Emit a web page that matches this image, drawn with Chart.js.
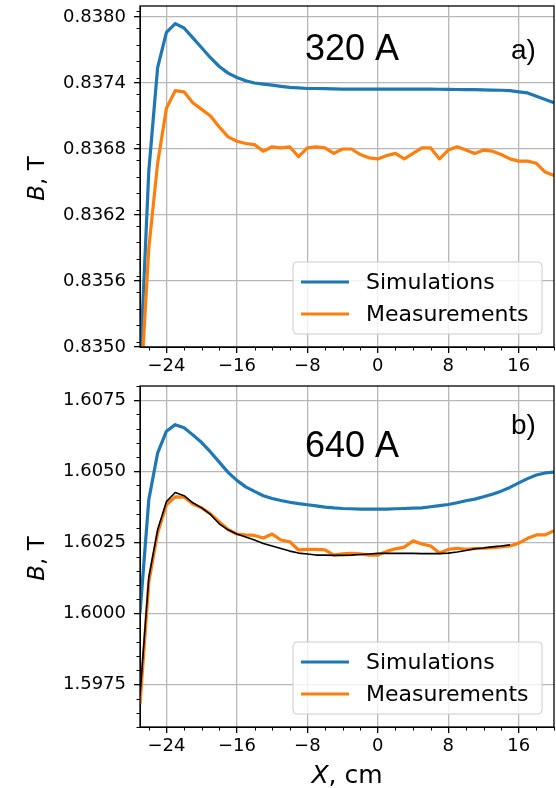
<!DOCTYPE html>
<html>
<head>
<meta charset="utf-8">
<script src="https://cdn.jsdelivr.net/npm/chart.js@4.4.1/dist/chart.umd.min.js"></script>
<style>
  html, body { margin: 0; padding: 0; background: #fff; }
  #wrap { position: relative; width: 556px; height: 788px; }
  canvas { position: absolute; left: 0; }
</style>
</head>
<body>
<div id="wrap">
  <canvas id="chartA" width="556" height="380" style="top:0px"></canvas>
  <canvas id="chartB" width="556" height="408" style="top:380px"></canvas>
</div>
<script>
// X position along the magnet, cm
const xCm = [-27,-26,-25,-24,-23,-22,-21,-20,-19,-18,-17,-16,-15,-14,-13,-12,-11,-10,-9,-8,-7,-6,-5,-4,
             -3,-2,-1,0,1,2,3,4,5,6,7,8,9,10,11,12,13,14,15,16,17,18,19,20];

// a) 320 A
const simA = [0.8348,0.8366,0.83754,0.83786,0.83794,0.83790,0.83781,0.83772,0.83763,0.83755,0.83749,0.83745,
              0.83742,0.83740,0.83739,0.83738,0.83737,0.83736,0.837355,0.83735,0.83735,0.837348,0.837346,0.837345,
              0.837344,0.837344,0.837344,0.837344,0.837344,0.837344,0.837344,0.837344,0.837344,0.837344,0.837343,0.837342,
              0.837341,0.83734,0.83734,0.837338,0.837336,0.837334,0.83733,0.83732,0.83731,0.83728,0.83725,0.83722];
const measA = [0.8345,0.8359,0.83667,0.83717,0.83733,0.83732,0.83722,0.83716,0.83710,0.83700,0.83691,0.83687,
               0.83685,0.83684,0.83678,0.83682,0.83681,0.83682,0.83673,0.83681,0.83682,0.83681,0.83676,0.83680,
               0.83680,0.83675,0.83672,0.83671,0.83674,0.83676,0.83671,0.83676,0.83681,0.83681,0.83671,0.83679,
               0.83682,0.83679,0.83676,0.83679,0.83678,0.83675,0.83671,0.83669,0.83669,0.83667,0.83659,0.83656];

// b) 640 A
const simB = [1.6000,1.6040,1.60564,1.60641,1.60664,1.60653,1.60628,1.60601,1.60568,1.60532,1.60496,1.60468,
              1.60445,1.60429,1.60414,1.60404,1.60397,1.60391,1.60386,1.60382,1.60378,1.60374,1.60371,1.60369,
              1.60368,1.60367,1.60367,1.60367,1.60367,1.60368,1.60369,1.60370,1.60371,1.60375,1.60379,1.60383,
              1.60389,1.60396,1.60402,1.60410,1.60419,1.60430,1.60443,1.60459,1.60474,1.60487,1.60494,1.60497];
const measB = [1.5968,1.60110,1.60283,1.60382,1.60410,1.60409,1.60385,1.60371,1.60350,1.60322,1.60295,1.60279,
               1.60276,1.60274,1.60265,1.60279,1.60258,1.60252,1.60223,1.60225,1.60225,1.60223,1.60205,1.60209,
               1.60211,1.60209,1.60205,1.60205,1.60218,1.60227,1.60233,1.60255,1.60244,1.60237,1.60212,1.60225,
               1.60229,1.60225,1.60228,1.60229,1.60231,1.60234,1.60237,1.60247,1.60264,1.60276,1.60276,1.60291];
// black fitted curve, x = -27 .. 15
const fitB = [1.5971,1.60127,1.60294,1.60393,1.60425,1.60414,1.60389,1.60371,1.60348,1.60315,1.60294,1.60279,
              1.60269,1.60258,1.60246,1.60237,1.60228,1.60219,1.60212,1.60209,1.60205,1.60205,1.60204,1.60204,
              1.60205,1.60207,1.60209,1.60211,1.60211,1.60211,1.60211,1.60211,1.60210,1.60210,1.60210,1.60212,
              1.60216,1.60221,1.60227,1.60230,1.60234,1.60237,1.60241];

const xTicks = [-24, -16, -8, 0, 8, 16];
const yTicksA = [0.8350, 0.8356, 0.8362, 0.8368, 0.8374, 0.8380];
const yTicksB = [1.5975, 1.6000, 1.6025, 1.6050, 1.6075];

const BLUE = '#1f77b4', ORANGE = '#ff7f0e';
const FONT = "'DejaVu Sans'";

function toPoints(xs, ys) {
  return ys.map((y, i) => ({ x: xs[i], y: y }));
}

function drawLine(ctx, x1, y1, x2, y2) {
  ctx.beginPath(); ctx.moveTo(x1, y1); ctx.lineTo(x2, y2); ctx.stroke();
}

// frame, minor ticks, panel labels, legend and axis titles
const decor = {
  id: 'decor',
  afterDraw(chart, args, o) {
    const ctx = chart.ctx, a = chart.chartArea;
    const xs = chart.scales.x, ys = chart.scales.y;
    ctx.save();
    ctx.strokeStyle = '#000';
    ctx.lineWidth = 1;

    // minor ticks
    for (let v = -26; v <= 20; v += 2) {
      if (v % 8 === 0) continue;
      const px = Math.round(xs.getPixelForValue(v)) + 0.5;
      drawLine(ctx, px, a.bottom, px, a.bottom + 3.5);
    }
    const k0 = Math.ceil(ys.min / o.minorStep - 1e-6), k1 = Math.floor(ys.max / o.minorStep + 1e-6);
    for (let k = k0; k <= k1; k++) {
      const v = k * o.minorStep;
      if (o.yTicks.some(t => Math.abs(t - v) < o.minorStep / 10)) continue;
      const py = Math.round(ys.getPixelForValue(v)) + 0.5;
      drawLine(ctx, a.left - 3.5, py, a.left, py);
    }

    // frame
    ctx.lineWidth = 1.3;
    ctx.strokeRect(a.left, a.top, a.right - a.left, a.bottom - a.top);

    // panel text
    ctx.fillStyle = '#000';
    ctx.textBaseline = 'alphabetic';
    ctx.textAlign = 'left';
    ctx.font = "36px 'Liberation Sans'";
    ctx.fillText(o.current, a.left + 165, a.top + o.currentDy);
    ctx.font = "28px 'Liberation Sans'";
    ctx.fillText(o.tag, a.left + 371, a.top + o.tagDy);

    // legend
    const bw = 249, bh = 72;
    const bx = a.right - 12 - bw, by = a.bottom - 13 - bh;
    ctx.beginPath();
    ctx.roundRect(bx, by, bw, bh, 4);
    ctx.fillStyle = 'rgba(255,255,255,0.8)';
    ctx.fill();
    ctx.strokeStyle = '#cccccc';
    ctx.lineWidth = 1;
    ctx.stroke();
    const items = chart.data.datasets.filter(d => d.label);
    ctx.font = '22px ' + FONT;
    ctx.textBaseline = 'middle';
    items.forEach((d, i) => {
      const ly = by + 20 + i * 32;
      ctx.strokeStyle = d.borderColor;
      ctx.lineWidth = 3;
      drawLine(ctx, bx + 8, ly, bx + 56, ly);
      ctx.fillStyle = '#000';
      ctx.fillText(d.label, bx + 73, ly + 1);
    });

    // y axis title: italic B
    ctx.save();
    ctx.translate(38, (a.top + a.bottom) / 2 + 2);
    ctx.rotate(-Math.PI / 2);
    drawTitle(ctx, 'B', ', T', 23);
    ctx.restore();

    if (o.xTitle) {
      ctx.save();
      ctx.translate((a.left + a.right) / 2, chart.height - 12);
      drawTitle(ctx, 'X', ', cm', 25);
      ctx.restore();
    }
    ctx.restore();
  }
};

function drawTitle(ctx, sym, rest, size) {
  ctx.textBaseline = 'middle';
  ctx.textAlign = 'left';
  ctx.fillStyle = '#000';
  ctx.font = 'italic ' + size + 'px ' + FONT;
  const w1 = ctx.measureText(sym).width;
  ctx.font = size + 'px ' + FONT;
  const w2 = ctx.measureText(rest).width;
  const x0 = -(w1 + w2) / 2;
  ctx.font = 'italic ' + size + 'px ' + FONT;
  ctx.fillText(sym, x0, 0);
  ctx.font = size + 'px ' + FONT;
  ctx.fillText(rest, x0 + w1, 0);
}

function panel(id, p) {
  const datasets = [
    { label: 'Simulations', data: toPoints(xCm, p.sim), borderColor: BLUE, borderWidth: 3.2, order: 2 },
    { label: 'Measurements', data: toPoints(xCm, p.meas), borderColor: ORANGE, borderWidth: 3.2, order: 1 }
  ];
  if (p.fit) {
    datasets.push({ label: '', data: toPoints(xCm, p.fit), borderColor: '#000', borderWidth: 1.6, order: 0 });
  }
  datasets.forEach(d => {
    d.pointRadius = 0;
    d.tension = 0;
    d.fill = false;
    d.borderJoinStyle = 'round';
  });

  return new Chart(document.getElementById(id), {
    type: 'line',
    data: { datasets: datasets },
    options: {
      responsive: false,
      animation: false,
      devicePixelRatio: 1,
      events: [],
      layout: { padding: { top: 6, right: 2, left: 0, bottom: 0 } },
      plugins: {
        legend: { display: false },
        tooltip: { enabled: false },
        decor: p.decor
      },
      scales: {
        x: {
          type: 'linear',
          min: -27,
          max: 20,
          afterBuildTicks: s => { s.ticks = xTicks.map(v => ({ value: v })); },
          afterFit: s => { s.height = p.xAxisHeight; s.paddingLeft = 0; s.paddingRight = 0; },
          ticks: {
            autoSkip: false,
            maxRotation: 0,
            padding: 3,
            color: '#000',
            font: { family: FONT, size: 18 },
            callback: v => String(v).replace('-', '\u2212')
          },
          grid: { color: '#b8b8b8', lineWidth: 1.3, tickColor: '#000', tickLength: 6 },
          border: { color: '#000', width: 1 }
        },
        y: {
          type: 'linear',
          min: p.yMin,
          max: p.yMax,
          afterBuildTicks: s => { s.ticks = p.yTicks.map(v => ({ value: v })); },
          afterFit: s => { s.width = 140; s.paddingTop = 0; s.paddingBottom = 0; },
          ticks: {
            autoSkip: false,
            padding: 8,
            color: '#000',
            font: { family: FONT, size: 18 },
            callback: v => v.toFixed(4)
          },
          grid: { color: '#b8b8b8', lineWidth: 1.3, tickColor: '#000', tickLength: 6 },
          border: { color: '#000', width: 1 }
        }
      }
    },
    plugins: [decor]
  });
}

panel('chartA', {
  sim: simA, meas: measA, fit: null,
  yMin: 0.8350, yMax: 0.8381, yTicks: yTicksA,
  xAxisHeight: 33,
  decor: { minorStep: 0.00015, yTicks: yTicksA, current: '320 A', currentDy: 54, tag: 'a)', tagDy: 53, xTitle: false }
});

panel('chartB', {
  sim: simB, meas: measB, fit: fitB,
  yMin: 1.5960, yMax: 1.6080, yTicks: yTicksB,
  xAxisHeight: 61,
  decor: { minorStep: 0.0005, yTicks: yTicksB, current: '640 A', currentDy: 71, tag: 'b)', tagDy: 48, xTitle: true }
});
</script>
</body>
</html>
